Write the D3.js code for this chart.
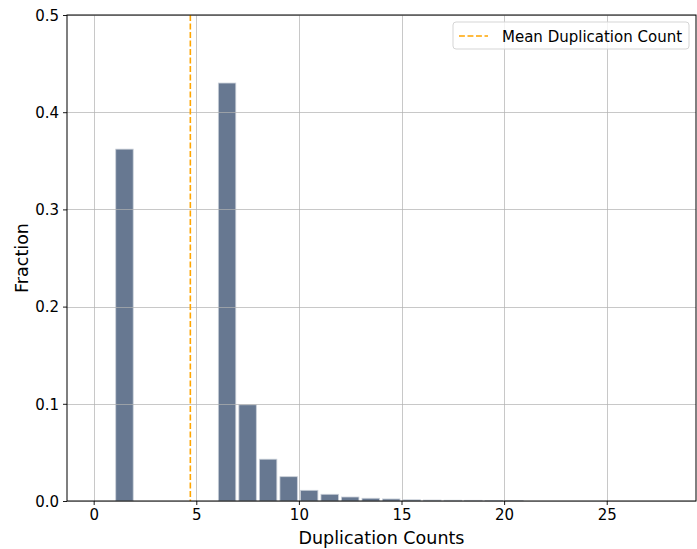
<!DOCTYPE html>
<html>
<head>
<meta charset="utf-8">
<script src="https://cdn.jsdelivr.net/npm/d3@7"></script>
<style>
  body { margin: 0; background: #fff; }
  svg { display: block; font-family: "DejaVu Sans", sans-serif; }
</style>
</head>
<body>
<svg id="chart" width="697" height="549"></svg>
<script>
// histogram bins: left edge of each bin (width 1) and its fraction
const binStarts = [1, 6, 7, 8, 9, 10, 11, 12, 13, 14, 15, 16, 17, 18, 19, 20];
const fractions = [0.362, 0.430, 0.099, 0.043, 0.025, 0.011, 0.0069, 0.0041, 0.0028, 0.0021, 0.0012, 0.0010, 0.0008, 0.0007, 0.0006, 0.0005];
const meanCount = 4.71;
const xTicks = [0, 5, 10, 15, 20, 25];
const yTicks = [0.0, 0.1, 0.2, 0.3, 0.4, 0.5];

const opts = {
  width: 697,
  height: 549,
  left: 67,
  right: 696,
  top: 15,
  bottom: 501,
  rwidth: 0.85,
  barColor: '#677891',
  tickFont: 15,
  titleFont: 17.5,
};

const svg = d3.select('#chart');

const x = d3.scaleLinear().domain([-1.3, 29.35]).range([opts.left, opts.right]);
const y = d3.scaleLinear().domain([0, 0.5]).range([opts.bottom, opts.top]);

const bins = binStarts.map((b, i) => ({ x0: b, x1: b + 1, value: fractions[i] }));

// bars
svg.append('g').classed('bars', true).selectAll('rect').data(bins).enter()
  .append('rect')
  .attr('x', d => x(d.x0 + (1 - opts.rwidth) / 2))
  .attr('width', d => x(d.x1 - (1 - opts.rwidth) / 2) - x(d.x0 + (1 - opts.rwidth) / 2))
  .attr('y', d => y(d.value))
  .attr('height', d => y(0) - y(d.value))
  .attr('fill', opts.barColor)
  .attr('stroke', '#c9cfd8')
  .attr('stroke-width', 0.8);

// grid (drawn over bars, like the reference)
const grid = svg.append('g').classed('grid', true)
  .attr('stroke', '#b0b0b0')
  .attr('stroke-opacity', 0.7)
  .attr('stroke-width', 1);
grid.selectAll('line.gx').data(xTicks).enter().append('line')
  .attr('x1', d => Math.round(x(d)) + 0.5).attr('x2', d => Math.round(x(d)) + 0.5)
  .attr('y1', opts.top).attr('y2', opts.bottom);
grid.selectAll('line.gy').data(yTicks).enter().append('line')
  .attr('y1', d => Math.round(y(d)) + 0.5).attr('y2', d => Math.round(y(d)) + 0.5)
  .attr('x1', opts.left).attr('x2', opts.right);

// mean line
svg.append('line')
  .attr('x1', x(meanCount)).attr('x2', x(meanCount))
  .attr('y1', opts.top).attr('y2', opts.bottom)
  .attr('stroke', '#ffa500')
  .attr('stroke-width', 1.6)
  .attr('stroke-dasharray', '5.9,2.6');

// axes
const xAxis = svg.append('g')
  .attr('transform', `translate(0,${opts.bottom})`)
  .call(d3.axisBottom(x).tickValues(xTicks).tickFormat(d3.format('d')).tickSize(4).tickPadding(4));
const yAxis = svg.append('g')
  .attr('transform', `translate(${opts.left},0)`)
  .call(d3.axisLeft(y).tickValues(yTicks).tickFormat(d3.format('.1f')).tickSize(4).tickPadding(4));
[xAxis, yAxis].forEach(a => {
  a.select('.domain').remove();
  a.selectAll('text').attr('font-size', opts.tickFont).attr('fill', '#000').attr('font-family', '"DejaVu Sans", sans-serif');
  a.selectAll('line').attr('stroke', '#000').attr('stroke-width', 0.9);
});
yAxis.selectAll('text').attr('dy', '0.35em');

// frame
svg.append('rect')
  .attr('x', opts.left).attr('y', opts.top)
  .attr('width', opts.right - opts.left).attr('height', opts.bottom - opts.top)
  .attr('fill', 'none').attr('stroke', '#000').attr('stroke-width', 1);

// axis titles
svg.append('text')
  .attr('x', (opts.left + opts.right) / 2).attr('y', 544)
  .attr('text-anchor', 'middle').attr('font-size', opts.titleFont)
  .text('Duplication Counts');
svg.append('text')
  .attr('transform', `translate(28,${(opts.top + opts.bottom) / 2}) rotate(-90)`)
  .attr('text-anchor', 'middle').attr('font-size', opts.titleFont)
  .text('Fraction');

// legend
const legend = svg.append('g').attr('transform', 'translate(453,22)');
legend.append('rect')
  .attr('width', 236).attr('height', 27).attr('rx', 3)
  .attr('fill', '#fff').attr('fill-opacity', 0.8)
  .attr('stroke', '#d5d5d5').attr('stroke-width', 1);
legend.append('line')
  .attr('x1', 6).attr('x2', 35).attr('y1', 14).attr('y2', 14)
  .attr('stroke', '#ffa500').attr('stroke-width', 1.6)
  .attr('stroke-dasharray', '5.9,2.6');
legend.append('text')
  .attr('x', 49).attr('y', 19.5).attr('font-size', opts.tickFont)
  .text('Mean Duplication Count');
</script>
</body>
</html>
